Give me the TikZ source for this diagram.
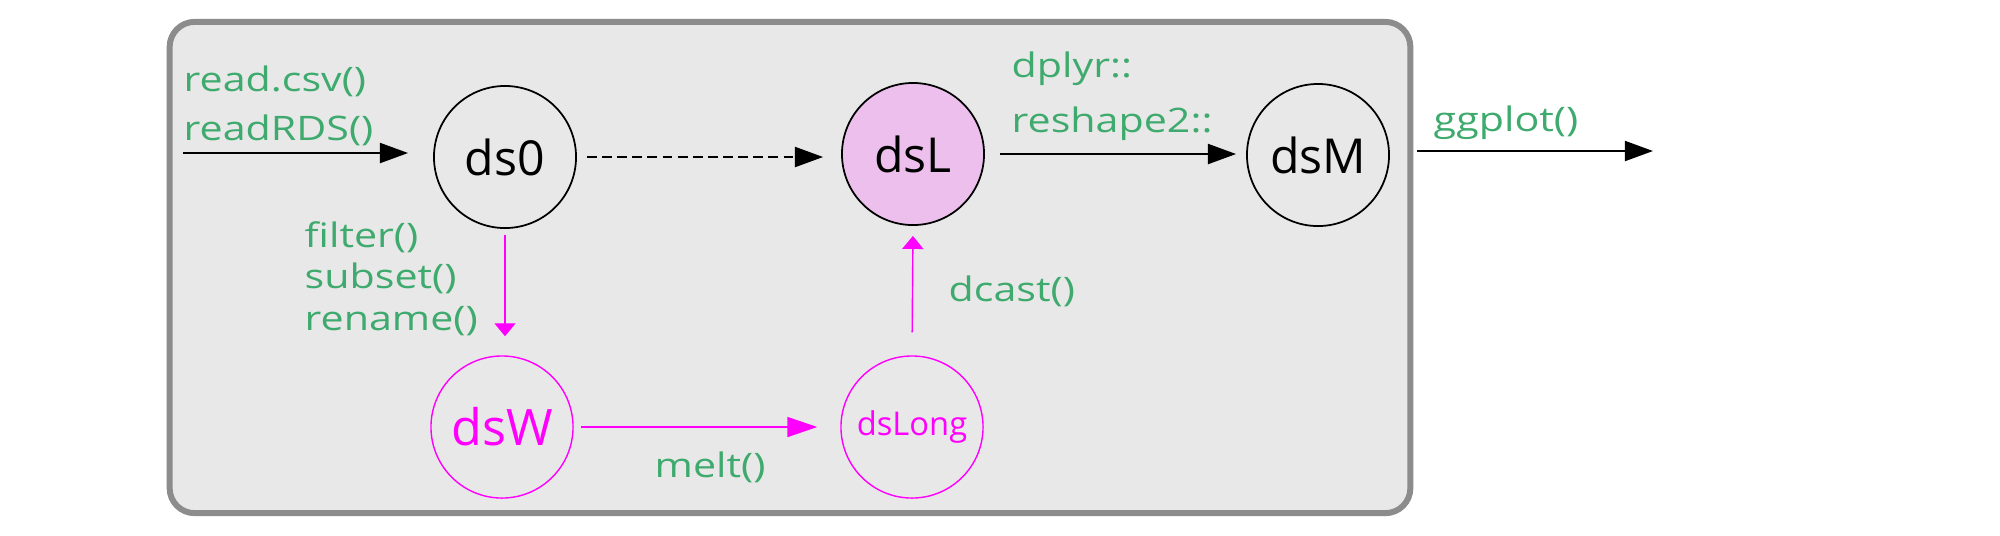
\documentclass[tikz,border=0pt]{standalone}
\usepackage{fontspec}
\usepackage{tikz}
\usetikzlibrary{arrows.meta}
\setmainfont{Open Sans}
\newfontfamily\fnfont[FakeStretch=1.22]{Open Sans}
\definecolor{boxfill}{HTML}{E8E8E8}
\definecolor{boxline}{HTML}{8C8C8C}
\definecolor{fngreen}{HTML}{3EAA6D}
\definecolor{mag}{HTML}{FF00FF}
\definecolor{longfill}{HTML}{ECBFEC}

\begin{document}
\begin{tikzpicture}[x=0.01cm, y=-0.01cm,
  every node/.style={font=\fontsize{13.7}{16}\selectfont},
  frame/.style={draw=boxline, fill=boxfill, line width=1.7pt, rounded corners=0.25cm,
    minimum width=12.4cm, minimum height=4.91cm, inner sep=0pt},
  ds/.style={circle, draw=black, line width=0.5pt, minimum size=1.42cm, inner sep=0pt},
  dsm/.style={ds, draw=mag, text=mag, line width=0.4pt},
  fn/.style={text=fngreen, font=\fnfont\fontsize{9.6}{#1}\selectfont,
    inner sep=0pt, anchor=base west, align=left},
  fn/.default=13.7,
  flow/.style={-{Triangle[length=8pt, width=5.7pt]}, line width=0.55pt},
  mflow/.style={-{Triangle[length=8.5pt, width=5.7pt]}, draw=mag, line width=0.4pt},
  mup/.style={-{Triangle[length=3.7pt, width=6pt]}, draw=mag, line width=0.4pt}]

  \useasboundingbox (0,0) rectangle (2000,535);
  \node[frame] (frame) at (790,267.5) {};

  \node[ds] (ds0) at (505,157) {ds0};
  \node[ds, fill=longfill] (dsL) at (913,154) {dsL};
  \node[ds] (dsM) at (1318,155) {dsM};
  \node[dsm, font=\fontsize{14.3}{17}\selectfont] (dsW) at (502,427) {dsW};
  \node[dsm, font=\fontsize{9.3}{11}\selectfont] (dsLong) at (912,427) {dsLong};

  \coordinate (in) at (183,153);
  \coordinate (out) at (1653,151);

  \draw[flow, shorten >=0.25cm] (in) -- (in -| ds0.west);
  \draw[flow, dash pattern=on 2.8pt off 1.5pt, shorten <=0.1cm, shorten >=0.18cm]
    (ds0.east) -- (ds0.east -| dsL.west);
  \draw[flow, shorten <=0.15cm, shorten >=0.1cm] (dsL.east) -- (dsL.east -| dsM.west);
  \draw[flow, shorten <=0.04cm] (frame.east |- out) -- (out);

  \draw[mup, shorten <=0.06cm, shorten >=0.19cm] (ds0.south) -- (ds0.south |- dsW.north);
  \draw[mflow, shorten <=0.07cm, shorten >=0.23cm] (dsW.east) -- (dsW.east -| dsLong.west);
  \draw[mup, shorten <=0.23cm, shorten >=0.1cm] (dsLong.north) -- (dsL.south);

  \node[fn] (readlbl) at (183,140) {read.csv()\\readRDS()};
  \node[fn=11.7] (filterlbl) at (304,330) {filter()\\subset()\\rename()};
  \node[fn] (meltlbl) at (654,477) {melt()};
  \node[fn] (dcastlbl) at (948,301) {dcast()};
  \node[fn=15.6] (dplyrlbl) at (1011,132) {dplyr::\\reshape2::};
  \node[fn] (ggplotlbl) at (1433,131) {ggplot()};
\end{tikzpicture}
\end{document}
